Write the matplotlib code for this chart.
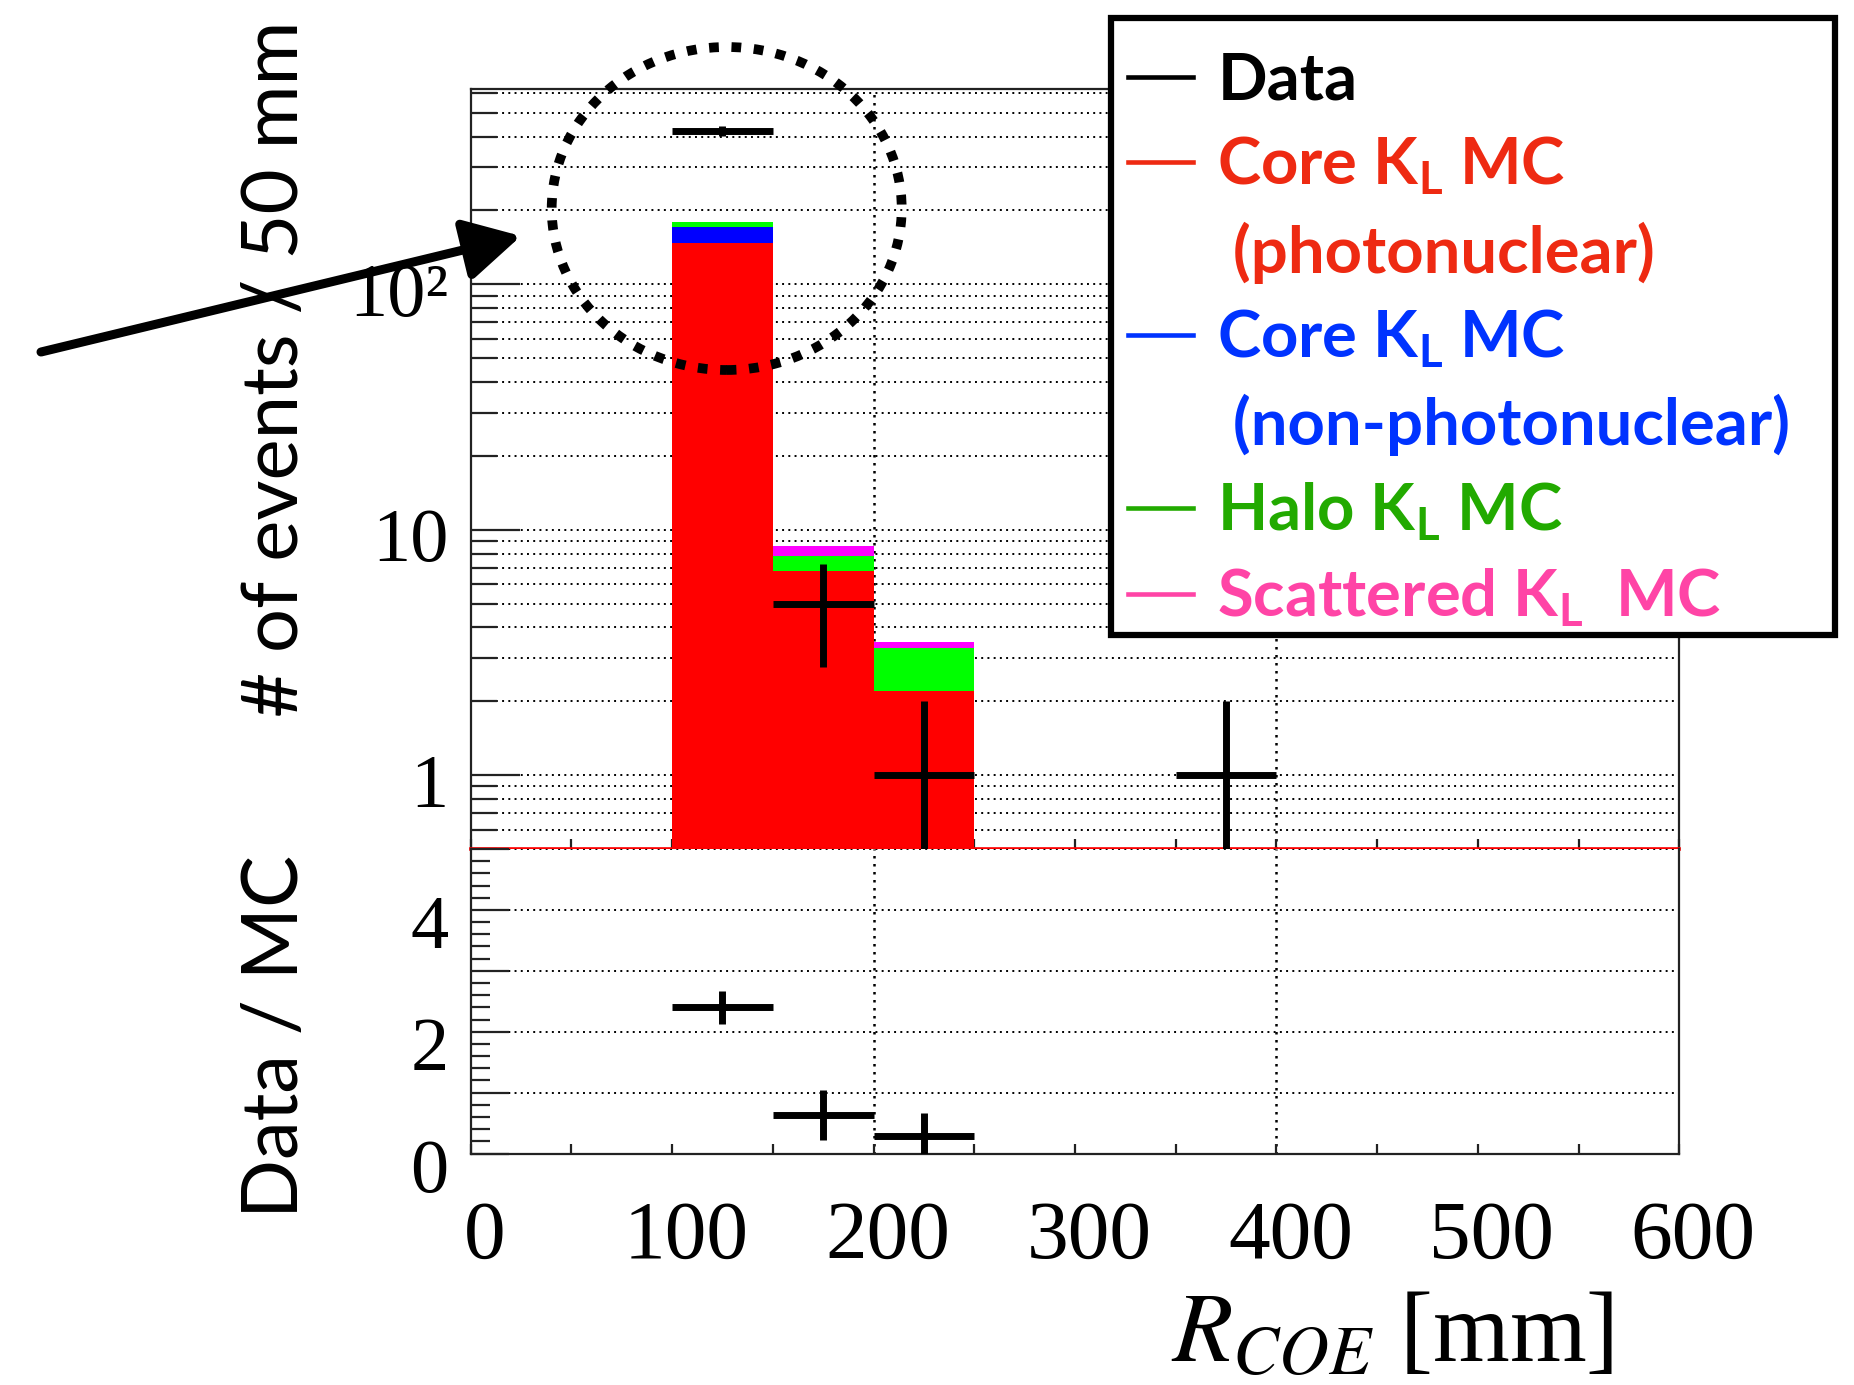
import matplotlib
matplotlib.use("Agg")
import matplotlib.pyplot as plt
import numpy as np
from matplotlib.patches import Ellipse, Rectangle, FancyArrowPatch
from matplotlib.lines import Line2D
from matplotlib.transforms import ScaledTranslation
from matplotlib.ticker import FixedLocator, MultipleLocator, FuncFormatter, LogLocator, NullFormatter

plt.rcParams['mathtext.fontset'] = 'custom'
plt.rcParams['mathtext.rm'] = 'Lato:bold'
plt.rcParams['mathtext.it'] = 'Lato:bold:italic'
plt.rcParams['mathtext.bf'] = 'Lato:bold'

# --- stacked MC histogram, 50 mm bins ---
bin_edges = [100, 150, 200, 250]
core_pn = [147.0, 6.8, 2.2]      # Core KL MC (photonuclear)
core_npn = [23.5, 0.0, 0.0]      # Core KL MC (non-photonuclear)
halo = [9.0, 1.0, 1.1]           # Halo KL MC
scattered = [0.4, 0.8, 0.2]      # Scattered KL MC

# --- data points ---
data_x = [125, 175, 225, 375]
data_y = [421, 5, 1, 1]
data_yerr = [20.5, 2.24, 1.0, 1.0]
data_xerr = [25, 25, 25, 25]

# --- data / MC ratio ---
ratio_x = [125, 175, 225]
ratio_y = [2.40, 0.635, 0.29]
ratio_yerr = [0.27, 0.41, 0.37]
ratio_xerr = [25, 25, 25]

legend_labels = ["Data", "Core K$_\\mathrm{L}$ MC", " (photonuclear)",
                 "Core K$_\\mathrm{L}$ MC", " (non-photonuclear)",
                 "Halo K$_\\mathrm{L}$ MC", "Scattered K$_\\mathrm{L}$  MC"]
legend_colors = ["#000000", "#EE2A12", "#EE2A12", "#0033FF", "#0033FF", "#22AA00", "#FF44A6"]
legend_line = [True, True, False, True, False, True, True]

W, H = 1854, 1385
fig = plt.figure(figsize=(W / 100, H / 100), dpi=100)

def fr(x0, y0, x1, y1):
    # image pixel box -> figure fraction rect
    return [x0 / W, 1 - y1 / H, (x1 - x0) / W, (y1 - y0) / H]

def shift(labels, dx, dy):
    for lab in labels:
        lab.set_transform(lab.get_transform() + ScaledTranslation(dx / 100, dy / 100, fig.dpi_scale_trans))

ax = fig.add_axes(fr(470.7, 89, 1679.3, 849))
axr = fig.add_axes(fr(470.7, 849, 1679.3, 1153.5), sharex=ax)

xlo, xhi = 0, 600
ylo, yhi = 0.5, 625

serif = 'Liberation Serif'
spine_c = '#222222'
grid_ls = (0, (1, 2.2))

# stacked bars
left = bin_edges[:-1]
widths = np.diff(bin_edges)
bottom = np.zeros(len(left))
for vals, col in [(core_pn, '#FF0000'), (core_npn, '#0000FF'), (halo, '#00FF00'), (scattered, '#FF00FF')]:
    ax.bar(left, vals, widths, bottom=bottom, align='edge', color=col, linewidth=0, zorder=2)
    bottom = bottom + np.array(vals)

ax.errorbar(data_x, data_y, xerr=data_xerr, yerr=data_yerr, fmt='none',
            ecolor='black', elinewidth=5, capsize=0, zorder=4)

ax.set_yscale('log', nonpositive='clip')
ax.set_xlim(xlo, xhi)
ax.set_ylim(ylo, yhi)
ax.axhline(ylo, color='red', lw=2.6, zorder=3.5, clip_on=False)

ax.yaxis.set_major_locator(FixedLocator([1, 10, 100]))
ax.yaxis.set_major_formatter(FuncFormatter(lambda v, p: {1: '1', 10: '10', 100: '10\u00b2'}.get(int(round(v)), '')))
ax.yaxis.set_minor_locator(LogLocator(base=10, subs=np.arange(2, 10)))
ax.yaxis.set_minor_formatter(NullFormatter())
ax.grid(True, which='both', axis='y', ls=grid_ls, color='black', lw=1.4, zorder=1)

for a in (ax, axr):
    a.xaxis.set_major_locator(MultipleLocator(100))
    a.xaxis.set_minor_locator(MultipleLocator(50))
    for gx in (200, 400):
        a.axvline(gx, ls=grid_ls, color='black', lw=1.8, zorder=1)
    for s in a.spines.values():
        s.set_linewidth(1.6)
        s.set_color(spine_c)
    a.tick_params(which='both', direction='in', top=False, right=False, color=spine_c, width=1.6)
    a.tick_params(axis='x', which='both', length=7)
axr.spines['top'].set_visible(False)
ax.spines['bottom'].set_zorder(3)

ax.tick_params(axis='y', which='major', length=35, labelsize=55, pad=16)
ax.tick_params(axis='y', which='minor', length=19)
ax.tick_params(axis='x', labelbottom=False)
for t in ax.get_yticklabels():
    t.set_fontfamily(serif)
shift(ax.get_yticklabels(), 0, -5)

# ratio panel
axr.errorbar(ratio_x, ratio_y, xerr=ratio_xerr, yerr=ratio_yerr, fmt='none',
             ecolor='black', elinewidth=5, capsize=0, zorder=4)
axr.set_ylim(0, 5)
axr.yaxis.set_major_locator(MultipleLocator(1))
axr.yaxis.set_minor_locator(MultipleLocator(0.2))
axr.yaxis.set_major_formatter(FuncFormatter(lambda v, p: '%d' % v if int(round(v)) in (0, 2, 4) else ''))
axr.grid(True, which='major', axis='y', ls=grid_ls, color='black', lw=1.4, zorder=1)
axr.tick_params(axis='y', which='major', length=27, labelsize=55, pad=16)
axr.tick_params(axis='y', which='minor', length=14)
axr.tick_params(axis='x', labelsize=60, pad=34)
for t in axr.get_yticklabels() + axr.get_xticklabels():
    t.set_fontfamily(serif)
shift(axr.get_yticklabels(), 0, -12)
shift(axr.get_xticklabels(), 14, 0)

# axis titles
fig.text(276 / W, 1 - 369 / H, "# of events / 50 mm", rotation=90, ha='center', va='center',
         fontsize=56, fontfamily='Lato')
fig.text(276 / W, 1 - 1036 / H, "Data / MC", rotation=90, ha='center', va='center',
         fontsize=56, fontfamily='Lato')
fig.text(1392 / W, 1 - 1362 / H, "$R_{COE}$ [mm]", ha='center', va='baseline',
         fontsize=71, fontfamily=serif, math_fontfamily='stix')

# legend box
fig.add_artist(Rectangle((1111 / W, 1 - 635 / H), (1835 - 1111) / W, (635 - 18) / H,
                         transform=fig.transFigure, facecolor='white', edgecolor='black',
                         lw=4.5, zorder=5))
handles = [Line2D([], [], color=(c if l else 'none'), lw=3.3) for c, l in zip(legend_colors, legend_line)]
leg = fig.legend(handles, legend_labels, loc='upper left',
                 bbox_to_anchor=(1128 / W, 1 - 52 / H), bbox_transform=fig.transFigure,
                 frameon=False, handlelength=1.0, handletextpad=0.37, labelspacing=0.37,
                 borderpad=0, borderaxespad=0,
                 prop={'family': 'Lato', 'weight': 'bold', 'size': 47})
leg.set_zorder(6)
for t, c in zip(leg.get_texts(), legend_colors):
    t.set_color(c)

# annotation: dotted circle and arrow
fig.add_artist(Ellipse((726.7 / W, 1 - 208.5 / H), 350 / W, 323 / H, transform=fig.transFigure,
                       fill=False, edgecolor='black', lw=7, ls=(0, (1.0, 1.3)), zorder=7))
fig.add_artist(FancyArrowPatch((41 / W, 1 - 352 / H), (521 / W, 1 - 236 / H), transform=fig.transFigure,
                               arrowstyle='-|>,head_length=0.55,head_width=0.3', mutation_scale=62,
                               lw=6.5, color='black', shrinkA=0, shrinkB=0, zorder=8))

fig.savefig("out.png", dpi=100)
